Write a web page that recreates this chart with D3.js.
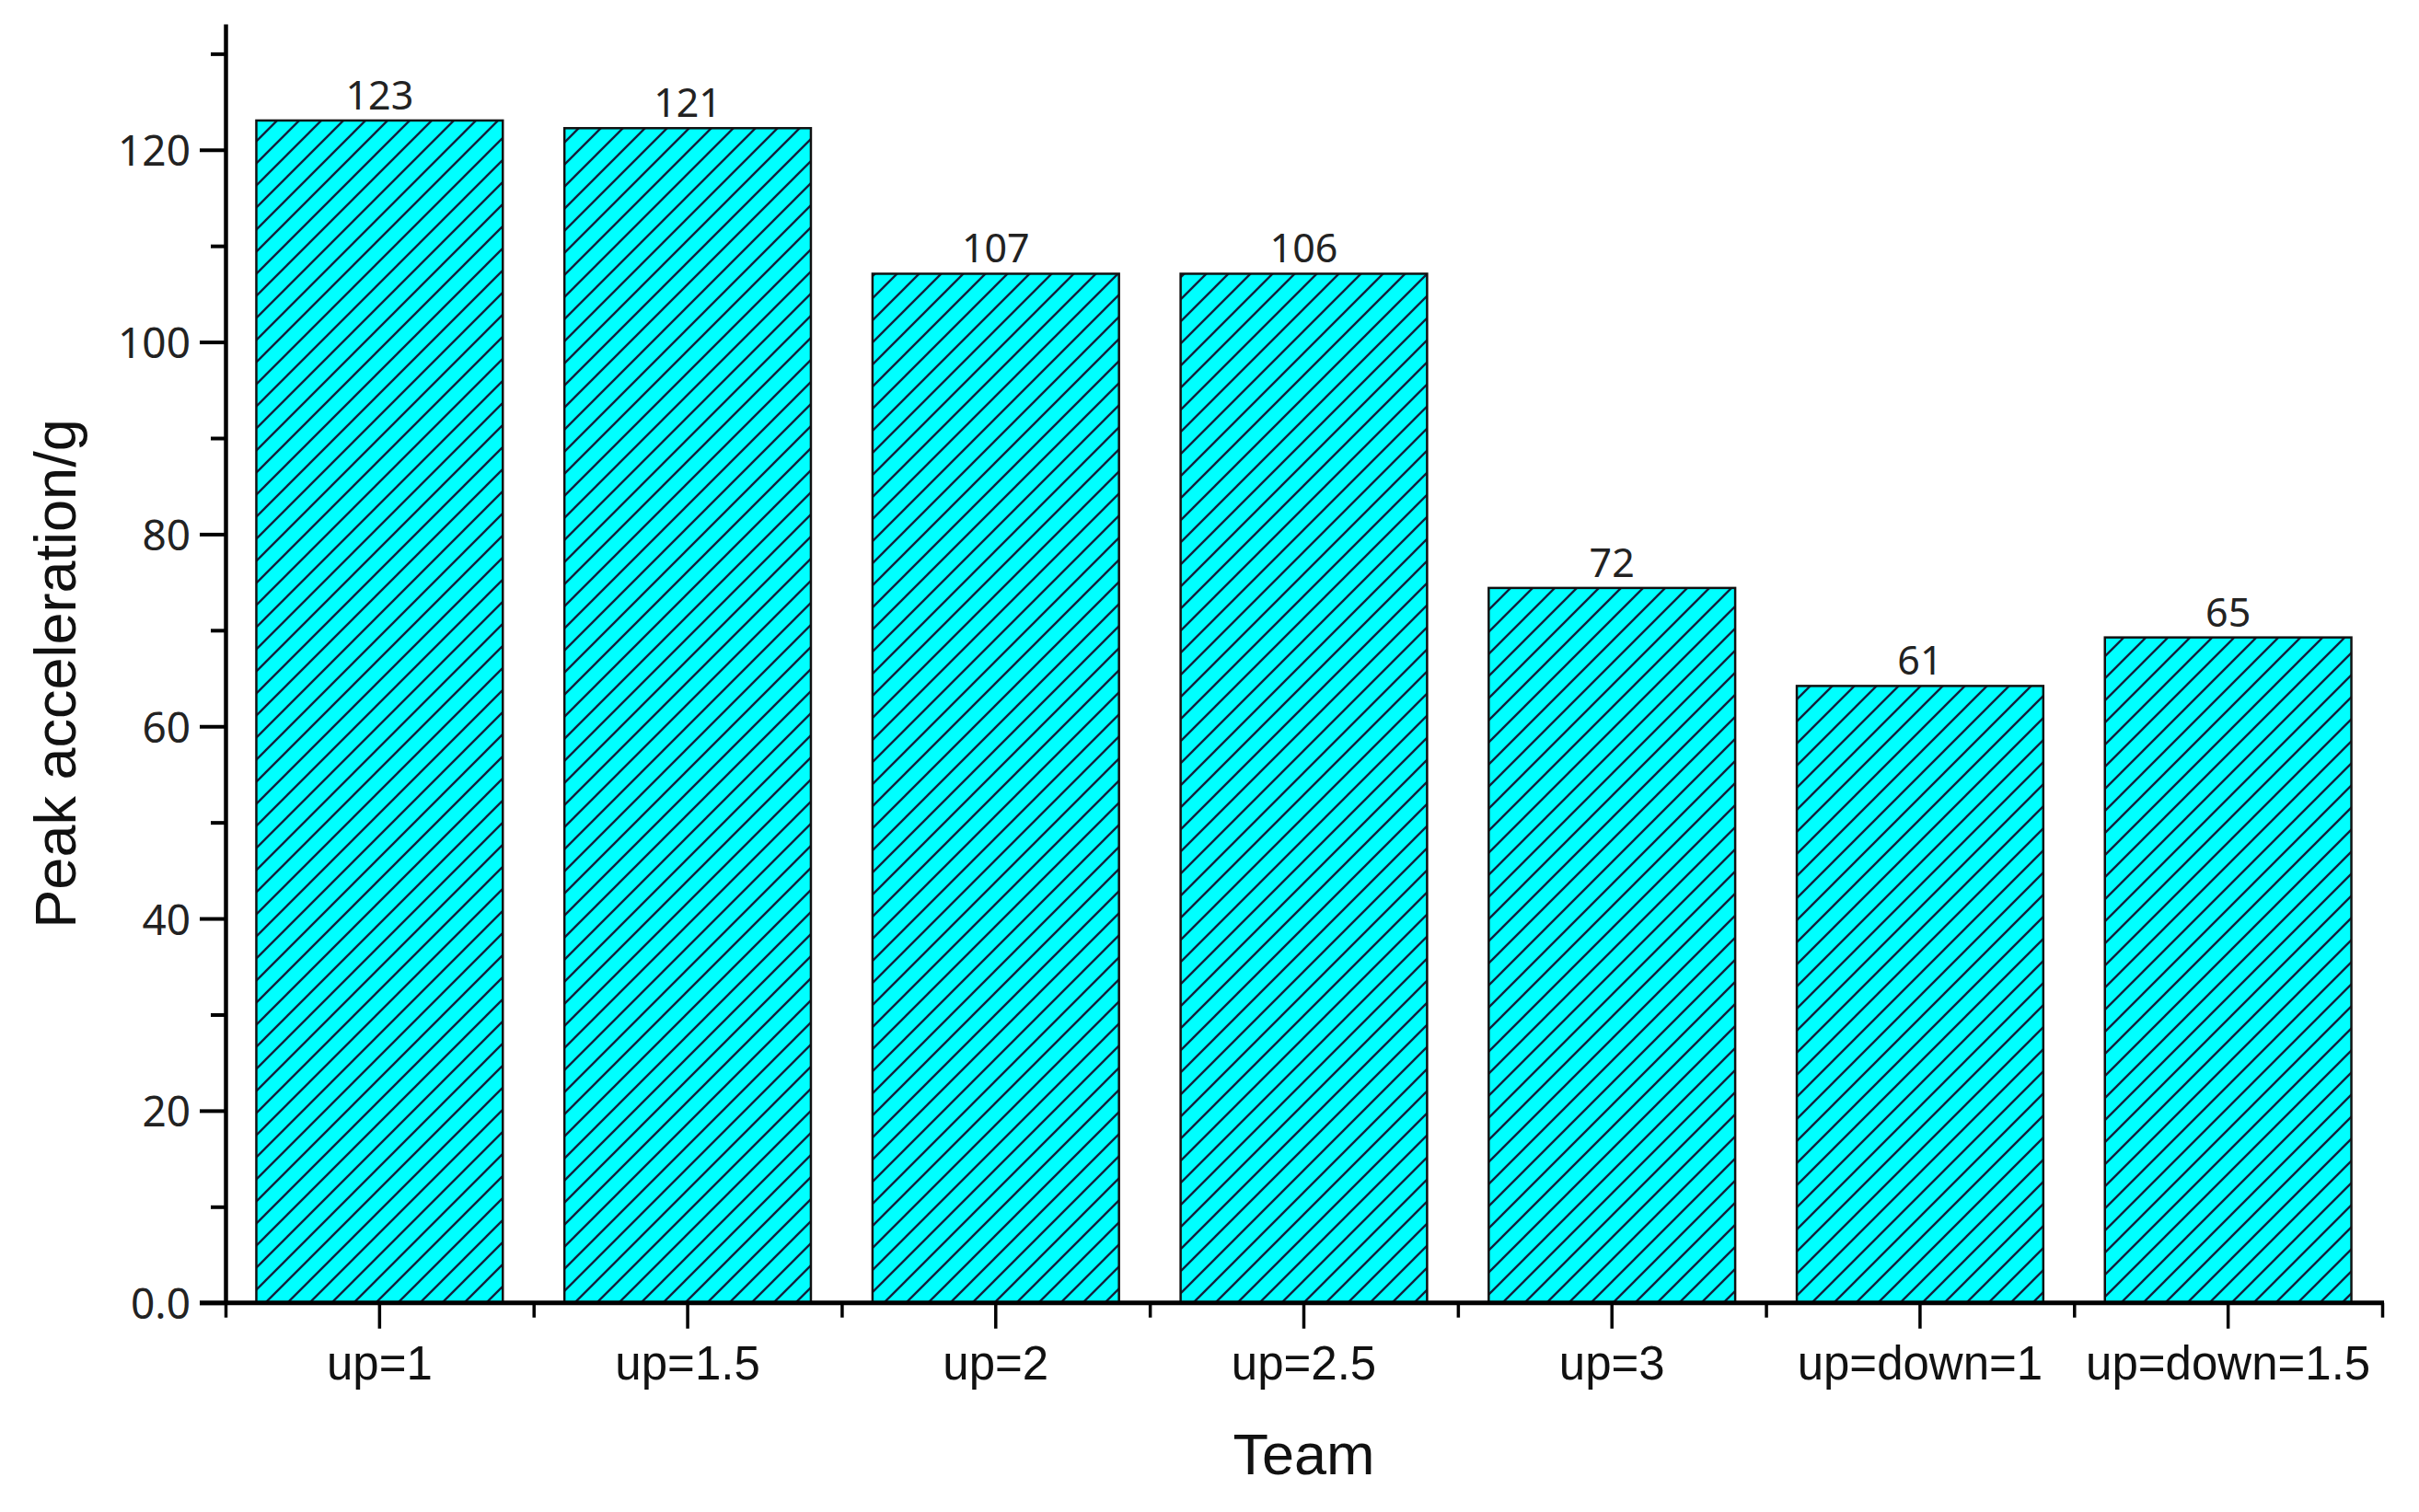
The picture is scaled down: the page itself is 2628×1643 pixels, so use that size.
<!DOCTYPE html>
<html><head><meta charset="utf-8">
<script src="https://cdn.jsdelivr.net/npm/d3@7"></script>
<style>body{margin:0;background:#fff}svg{display:block}</style></head>
<body><svg id="chart" width="2628" height="1643"></svg>
<script>
const categories = ["up=1","up=1.5","up=2","up=2.5","up=3","up=down=1","up=down=1.5"];
const peakValues = [123.05,122.25,107.1,107.1,74.4,64.2,69.25];
const valueLabels = ["123","121","107","106","72","61","65"];
const yMajorTicks = [0,20,40,60,80,100,120];
const yTickLabels = ["0.0","20","40","60","80","100","120"];
const yMinorTicks = [10,30,50,70,90,110,130];
const yMax = 133.1;
const xTitle = "Team";
const yTitle = "Peak acceleration/g";

const svg = d3.select("#chart");
svg.append("rect").attr("width",2628).attr("height",1643).attr("fill","#fff");

const plotLeft = 245, plotRight = 2588, plotTop = 26, plotBottom = 1415.7;

const x = d3.scaleBand().domain(categories).range([plotLeft, plotRight]).paddingInner(0.2).paddingOuter(0.1);
const xb = d3.scaleLinear().domain([0, categories.length]).range([plotLeft, plotRight]);
const y = d3.scaleLinear().domain([0, yMax]).range([plotBottom, plotTop]);

const defs = svg.append("defs");
const pat = defs.append("pattern").attr("id","hatch").attr("patternUnits","userSpaceOnUse")
  .attr("width",24).attr("height",24);
pat.append("rect").attr("width",24).attr("height",24).attr("fill","#00ffff");
pat.append("path").attr("d","M-6,6 L6,-6 M0,24 L24,0 M18,30 L30,18")
  .attr("stroke","#14203c").attr("stroke-width",2.4);

const data = categories.map((c,i)=>({c, v: peakValues[i], label: valueLabels[i]}));

svg.append("g").selectAll("rect").data(data).join("rect")
  .attr("x", d=>x(d.c)).attr("width", x.bandwidth())
  .attr("y", d=>y(d.v)).attr("height", d=>y(0)-y(d.v))
  .attr("fill","url(#hatch)").attr("stroke","#111").attr("stroke-width",2.5);

svg.append("g").selectAll("text").data(data).join("text")
  .attr("x", d=>x(d.c)+x.bandwidth()/2).attr("y", d=>y(d.v)-12)
  .attr("text-anchor","middle").attr("font-family","'Noto Sans', sans-serif")
  .attr("font-size",43).attr("fill","#222").text(d=>d.label);

// Y axis
const yAxis = svg.append("g").attr("transform",`translate(${plotLeft},0)`)
  .call(d3.axisLeft(y).tickValues(yMajorTicks).tickSize(28).tickSizeOuter(0)
    .tickFormat((d,i)=>yTickLabels[i]));
yAxis.select(".domain").attr("stroke","#000").attr("stroke-width",4.5);
yAxis.selectAll(".tick line").attr("stroke","#000").attr("stroke-width",4);
yAxis.selectAll(".tick text").attr("x",-38).attr("dy",0).attr("y",17)
  .attr("font-family","'Noto Sans', sans-serif").attr("font-size",46).attr("fill","#222");

const yMinor = svg.append("g").attr("transform",`translate(${plotLeft},0)`)
  .call(d3.axisLeft(y).tickValues(yMinorTicks).tickSize(16).tickFormat(""));
yMinor.select(".domain").remove();
yMinor.selectAll(".tick line").attr("stroke","#000").attr("stroke-width",4);

// X axis
const xMinor = svg.append("g").attr("transform",`translate(0,${plotBottom})`)
  .call(d3.axisBottom(xb).tickValues(d3.range(categories.length+1)).tickSize(16).tickFormat(""));
xMinor.select(".domain").remove();
xMinor.selectAll(".tick line").attr("stroke","#000").attr("stroke-width",3.5);

const xAxis = svg.append("g").attr("transform",`translate(0,${plotBottom})`)
  .call(d3.axisBottom(x).tickSize(28).tickSizeOuter(0));
xAxis.select(".domain").remove();
xAxis.selectAll(".tick line").attr("stroke","#000").attr("stroke-width",3.5);
xAxis.selectAll(".tick text").attr("y",83).attr("dy",0)
  .attr("font-family","'Liberation Sans', Arial, sans-serif").attr("font-size",51).attr("fill","#111");

svg.append("line").attr("x1",plotLeft-28).attr("x2",plotRight+2).attr("y1",plotBottom).attr("y2",plotBottom)
  .attr("stroke","#000").attr("stroke-width",5);

// Titles
svg.append("text").attr("x",(plotLeft+plotRight)/2).attr("y",1602).attr("text-anchor","middle")
  .attr("font-family","'Liberation Sans', Arial, sans-serif").attr("font-size",63).attr("fill","#111").text(xTitle);
svg.append("text").attr("transform","translate(82,732) rotate(-90)").attr("text-anchor","middle")
  .attr("font-family","'Liberation Sans', Arial, sans-serif").attr("font-size",63).attr("fill","#111").text(yTitle);
</script></body></html>
